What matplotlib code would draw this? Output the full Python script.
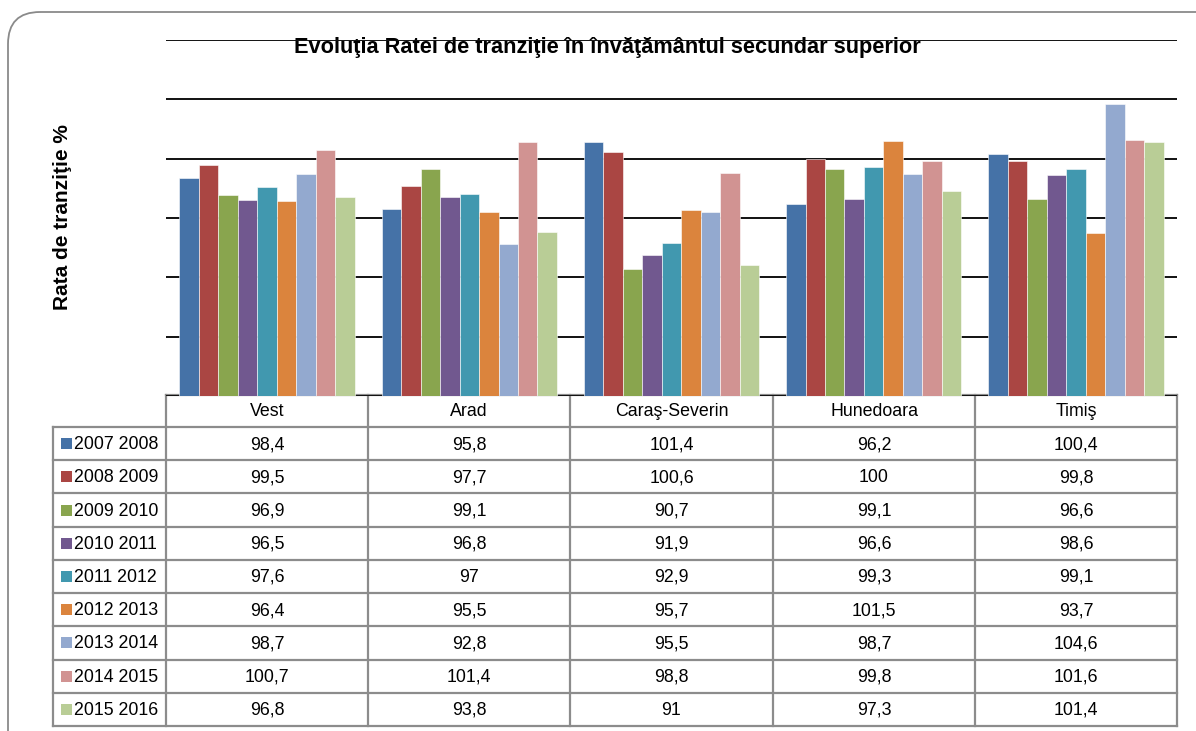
import matplotlib
matplotlib.use("Agg")
import matplotlib.pyplot as plt
from matplotlib.patches import FancyBboxPatch, Rectangle
from matplotlib import font_manager

categories = ["Vest", "Arad", "Caraş-Severin", "Hunedoara", "Timiş"]
series_labels = ["2007 2008", "2008 2009", "2009 2010", "2010 2011", "2011 2012",
                 "2012 2013", "2013 2014", "2014 2015", "2015 2016"]
s2007 = [98.4, 95.8, 101.4, 96.2, 100.4]
s2008 = [99.5, 97.7, 100.6, 100, 99.8]
s2009 = [96.9, 99.1, 90.7, 99.1, 96.6]
s2010 = [96.5, 96.8, 91.9, 96.6, 98.6]
s2011 = [97.6, 97, 92.9, 99.3, 99.1]
s2012 = [96.4, 95.5, 95.7, 101.5, 93.7]
s2013 = [98.7, 92.8, 95.5, 98.7, 104.6]
s2014 = [100.7, 101.4, 98.8, 99.8, 101.6]
s2015 = [96.8, 93.8, 91, 97.3, 101.4]
series = [s2007, s2008, s2009, s2010, s2011, s2012, s2013, s2014, s2015]
colors = ["#4572A7", "#AA4643", "#89A54E", "#71588F", "#4198AF",
          "#DB843D", "#93A9CF", "#D19392", "#B9CD96"]
title = "Evoluţia Ratei de tranziţie în învăţământul secundar superior"
ylabel = "Rata de tranziţie %"

avail = {f.name for f in font_manager.fontManager.ttflist}
narrow = "Liberation Sans Narrow" if "Liberation Sans Narrow" in avail else "Liberation Sans"
regular = "Liberation Sans"

W, H = 1196, 731
fig = plt.figure(figsize=(W / 100, H / 100), dpi=100)

# overlay axes in pixel coordinates (table, frame)
ov = fig.add_axes([0, 0, 1, 1], zorder=0)
ov.set_xlim(0, W)
ov.set_ylim(H, 0)
ov.axis("off")

# rounded frame
ov.add_patch(FancyBboxPatch((8, 12), 1220, 760, boxstyle="round,pad=0,rounding_size=32",
                            fill=False, edgecolor="#8a8a8a", lw=1.3))

# main bar axes
left_px, right_px, top_px, bot_px = 166, 1177, 40, 396
ax = fig.add_axes([left_px / W, 1 - bot_px / H, (right_px - left_px) / W, (bot_px - top_px) / H],
                  zorder=2)
ax.set_facecolor("none")
n = len(series)
bw = 0.0963
for i, (vals, c) in enumerate(zip(series, colors)):
    xs = [j + (i - (n - 1) / 2) * bw for j in range(len(categories))]
    ax.bar(xs, [v - 80 for v in vals], bottom=80, width=bw, color=c,
           edgecolor="white", linewidth=0.4, zorder=3)
ax.set_xlim(-0.5, len(categories) - 0.5)
ax.set_ylim(80, 110)
ax.set_yticks([80, 85, 90, 95, 100, 105, 110])
ax.yaxis.grid(True, color="#111111", lw=1.4, zorder=1)
ax.set_axisbelow(True)
ax.tick_params(left=False, bottom=False, labelleft=False, labelbottom=False)
for sp in ax.spines.values():
    sp.set_visible(False)

# title and y label
ov.text(607, 48, title, ha="center", va="center", fontsize=15.7, fontweight="bold",
        family=narrow, zorder=5)
fig.text(62 / W, 1 - 217 / H, ylabel, rotation=90, ha="center", va="center",
         fontsize=15, fontweight="bold", family=regular)

# data table
col_edges = [166, 368, 570, 773, 975, 1177]
row_top = 395
header_h = 32
row_h = (726 - 427) / 9
tab_left = 53
gc = "#8c8c8c"
tlw = 1.6
fs = 12.8
# grid lines
ov.plot([col_edges[0], col_edges[-1]], [row_top, row_top], color=gc, lw=tlw)
for x in col_edges:
    ov.plot([x, x], [row_top, 726], color=gc, lw=tlw)
ov.plot([tab_left, tab_left], [427, 726], color=gc, lw=tlw)
for k in range(10):
    y = 427 + k * row_h
    ov.plot([tab_left, col_edges[-1]], [y, y], color=gc, lw=tlw)
for j, cat in enumerate(categories):
    xc = (col_edges[j] + col_edges[j + 1]) / 2
    ov.text(xc, row_top + header_h / 2 + 1, cat, ha="center", va="center",
            fontsize=fs, family=narrow)
for i, (lab, vals, c) in enumerate(zip(series_labels, series, colors)):
    yc = 427 + (i + 0.5) * row_h
    ov.add_patch(Rectangle((61, yc - 5.5), 11, 11, facecolor=c, edgecolor="none"))
    ov.text(74, yc + 1, lab, ha="left", va="center", fontsize=fs, family=narrow)
    for j, v in enumerate(vals):
        xc = (col_edges[j] + col_edges[j + 1]) / 2
        txt = ("%g" % v).replace(".", ",")
        ov.text(xc, yc + 1, txt, ha="center", va="center", fontsize=fs, family=narrow)

fig.savefig("out.png", dpi=100)
